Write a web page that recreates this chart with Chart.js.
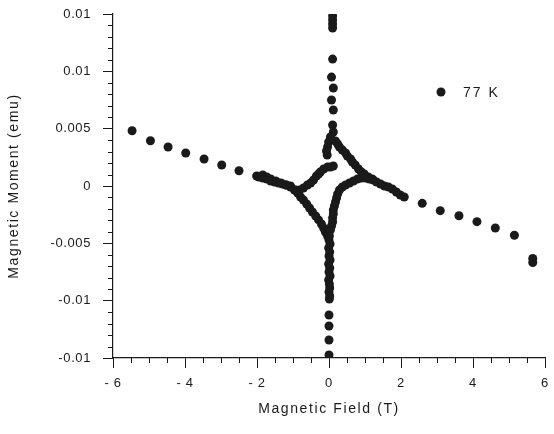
<!DOCTYPE html>
<html><head><meta charset="utf-8">
<script src="https://cdn.jsdelivr.net/npm/chart.js@4"></script>
<style>html,body{margin:0;padding:0;background:#fff}</style>
</head><body>
<canvas id="c" width="554" height="434"></canvas>
<script>
const seriesName = '77 K';
const xTitle = 'Magnetic Field (T)';
const yTitle = 'Magnetic Moment (emu)';
const xTickValues = [-6, -4, -2, 0, 2, 4, 6];
const xTickLabels = ['- 6', '- 4', '- 2', '0', '2', '4', '6'];
const yTickValues = [-0.015, -0.01, -0.005, 0, 0.005, 0.01, 0.015];
const yTickLabels = ['-0.01', '-0.01', '-0.005', '0', '0.005', '0.01', '0.01'];

// [field (T), moment (emu)]
const leftArm = [[-5.47,0.00482],[-4.96,0.00395],[-4.47,0.00340],[-3.98,0.00288],[-3.47,0.00235],[-2.98,0.00183],[-2.50,0.00133],[-2.01,0.00087]];
const rightArm = [[2.59,-0.00151],[3.09,-0.00215],[3.61,-0.00259],[4.11,-0.00311],[4.62,-0.00366],[5.15,-0.00430],[5.66,-0.00632],[5.66,-0.00667]];
const upperSpike = [[0.10,0.01482],[0.10,0.01448],[0.10,0.01413],[0.10,0.01378],[0.10,0.01107],[0.07,0.00950],[0.12,0.00855],[0.07,0.00750],[0.12,0.00663],[0.10,0.00532],[0.12,0.00471],[0.04,0.00427],[-0.01,0.00384],[-0.04,0.00340],[-0.07,0.00305],[-0.05,0.00270]];
const lowerSpike = [[0.01,-0.00436],[0.00,-0.00471],[0.03,-0.00506],[-0.01,-0.00540],[0.02,-0.00575],[0.00,-0.00610],[0.03,-0.00645],[-0.01,-0.00680],[0.02,-0.00715],[0.00,-0.00750],[0.03,-0.00785],[-0.01,-0.00820],[0.01,-0.00855],[0.02,-0.00889],[0.00,-0.00924],[0.02,-0.00959],[0.01,-0.00985],[0.00,-0.01125],[0.00,-0.01221],[0.00,-0.01343],[0.00,-0.01474]];
const branchA = [[0.18,0.00392],[0.24,0.00366],[0.29,0.00340],[0.37,0.00314],[0.46,0.00288],[0.51,0.00262],[0.60,0.00235],[0.65,0.00209],[0.73,0.00183],[0.82,0.00148],[0.90,0.00122],[0.98,0.00105],[1.09,0.00078],[1.20,0.00061],[1.32,0.00035],[1.43,0.00017],[1.54,0.00000],[1.65,-0.00009],[1.76,-0.00026],[1.87,-0.00052],[1.98,-0.00078],[2.09,-0.00096]];
const branchB = [[-1.95,0.00078],[-1.84,0.00070],[-1.73,0.00061],[-1.62,0.00044],[-1.51,0.00035],[-1.40,0.00026],[-1.29,0.00017],[-1.18,0.00009],[-1.07,-0.00009],[-0.96,-0.00035],[-0.87,-0.00061],[-0.79,-0.00096],[-0.71,-0.00122],[-0.62,-0.00157],[-0.54,-0.00192],[-0.46,-0.00227],[-0.37,-0.00262],[-0.29,-0.00296],[-0.21,-0.00331],[-0.15,-0.00366],[-0.10,-0.00401],[-0.04,-0.00436]];
const branchC = [[-1.84,0.00096],[-1.73,0.00078],[-1.62,0.00061],[-1.48,0.00044],[-1.34,0.00026],[-1.20,0.00009],[-1.07,0.00000],[-0.93,-0.00035],[-0.82,-0.00035],[-0.71,-0.00017],[-0.60,0.00009],[-0.51,0.00026],[-0.43,0.00052],[-0.35,0.00087],[-0.29,0.00105],[-0.24,0.00122],[-0.15,0.00148],[-0.04,0.00166],[0.04,0.00166],[0.12,0.00174]];
const branchD = [[0.04,-0.00384],[0.07,-0.00349],[0.10,-0.00314],[0.10,-0.00279],[0.12,-0.00244],[0.12,-0.00209],[0.15,-0.00174],[0.18,-0.00140],[0.21,-0.00105],[0.24,-0.00070],[0.29,-0.00035],[0.37,-0.00009],[0.46,0.00009],[0.57,0.00026],[0.68,0.00044],[0.79,0.00061],[0.90,0.00070],[1.01,0.00070],[1.12,0.00061],[1.23,0.00052]];

const points = [].concat(leftArm, branchC, branchB, upperSpike, branchA, lowerSpike, branchD, rightArm)
  .map(p => ({x: p[0], y: p[1]}));

const ink = '#1a1a1a';
const fontFamily = "'Liberation Sans', Arial, sans-serif";

const spacingPlugin = {
  id: 'spacing',
  beforeDraw(chart) { chart.ctx.letterSpacing = '1.6px'; },
  beforeDatasetsDraw(chart) { chart.ctx.letterSpacing = '0.6px'; },
  afterDraw(chart) { chart.ctx.letterSpacing = '0px'; }
};

const minorTicksPlugin = {
  id: 'minorTicks',
  afterDraw(chart) {
    const {ctx, scales: {x, y}} = chart;
    ctx.save();
    ctx.strokeStyle = ink;
    ctx.lineWidth = 1;
    ctx.beginPath();
    for (let i = -12; i <= 12; i++) {
      if (i % 4 === 0) continue;
      const px = Math.round(x.getPixelForValue(i * 0.5)) + 0.5;
      ctx.moveTo(px, x.top);
      ctx.lineTo(px, x.top + 5);
    }
    for (let j = -15; j <= 15; j++) {
      if (j % 5 === 0) continue;
      const py = Math.round(y.getPixelForValue(j * 0.001)) + 0.5;
      ctx.moveTo(y.right, py);
      ctx.lineTo(y.right - 5, py);
    }
    ctx.stroke();
    ctx.restore();
  }
};

const legendPlugin = {
  id: 'insideLegend',
  afterDraw(chart) {
    const {ctx, chartArea} = chart;
    const cx = chartArea.left + 328, cy = chartArea.top + 78;
    ctx.save();
    ctx.fillStyle = ink;
    ctx.beginPath();
    ctx.arc(cx, cy, 4.5, 0, Math.PI * 2);
    ctx.fill();
    ctx.letterSpacing = '2px';
    ctx.font = '14px ' + fontFamily;
    ctx.textAlign = 'left';
    ctx.textBaseline = 'middle';
    ctx.fillText(seriesName, cx + 22, cy + 1);
    ctx.restore();
  }
};

new Chart(document.getElementById('c'), {
  type: 'scatter',
  data: {
    datasets: [{
      label: seriesName,
      data: points,
      pointRadius: 4.5,
      pointHoverRadius: 4.5,
      backgroundColor: ink,
      borderColor: ink,
      borderWidth: 0
    }]
  },
  options: {
    responsive: false,
    animation: false,
    devicePixelRatio: 1,
    layout: {padding: {top: 14, right: 9, left: 0, bottom: 0}},
    plugins: {legend: {display: false}, tooltip: {enabled: false}},
    scales: {
      x: {
        type: 'linear', min: -6, max: 6,
        afterBuildTicks: s => { s.ticks = xTickValues.map(v => ({value: v})); },
        afterFit: s => { s.height = 76; s.paddingLeft = 0; s.paddingRight = 0; },
        ticks: {callback: (v, i) => xTickLabels[i], font: {family: fontFamily, size: 13}, color: ink, padding: 8, maxRotation: 0, autoSkip: false, z: 1},
        grid: {drawOnChartArea: false, drawTicks: true, tickLength: 10, tickColor: ink, z: -2},
        border: {display: true, color: ink, width: 1.2},
        title: {display: true, text: xTitle, font: {family: fontFamily, size: 14}, color: ink, padding: {top: 0, bottom: 16}}
      },
      y: {
        type: 'linear', min: -0.015, max: 0.015,
        afterBuildTicks: s => { s.ticks = yTickValues.map(v => ({value: v})); },
        afterFit: s => { s.width = 113; s.paddingTop = 0; s.paddingBottom = 0; },
        ticks: {callback: (v, i) => yTickLabels[i], font: {family: fontFamily, size: 13}, color: ink, padding: 12, autoSkip: false, z: 1},
        grid: {drawOnChartArea: false, drawTicks: true, tickLength: 10, tickColor: ink, z: -2},
        border: {display: true, color: ink, width: 1.2},
        title: {display: true, text: yTitle, font: {family: fontFamily, size: 14}, color: ink, padding: {top: 6, bottom: 0}}
      }
    }
  },
  plugins: [spacingPlugin, minorTicksPlugin, legendPlugin]
});
</script>
</body></html>
